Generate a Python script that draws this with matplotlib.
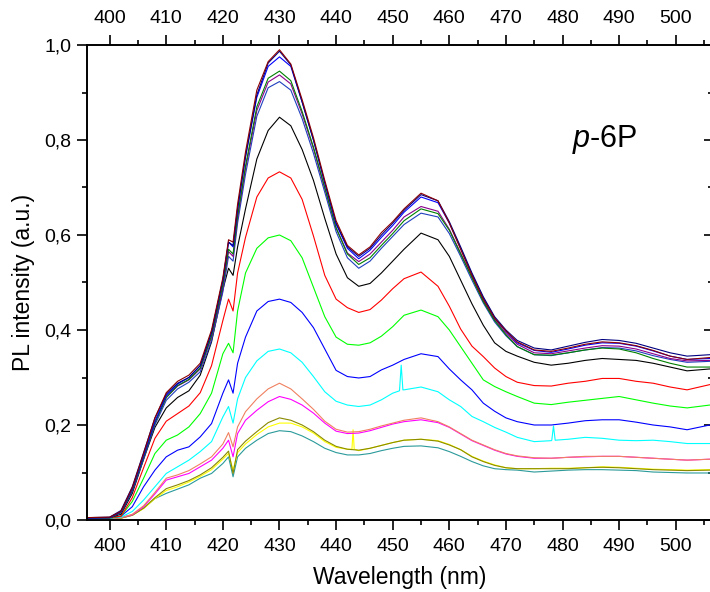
import numpy as np
import matplotlib
matplotlib.use('Agg')
import matplotlib.pyplot as plt
from matplotlib.ticker import MultipleLocator, FuncFormatter

plt.rcParams['font.family'] = ['Liberation Sans', 'DejaVu Sans']
plt.rcParams['mathtext.fontset'] = 'custom'
plt.rcParams['mathtext.it'] = 'Liberation Sans:italic'
plt.rcParams['mathtext.rm'] = 'Liberation Sans'

# wavelength grid (nm) shared by all spectra
wl = [396, 400, 402, 404, 406, 408, 410, 412, 414, 416,
      418, 420, 421, 421.8, 422.6, 424, 426, 428, 430, 432,
      434, 436, 438, 440, 442, 444, 446, 448, 450, 452,
      455, 458, 460, 462, 464, 466, 468, 470, 472, 475,
      478, 481, 484, 487, 490, 493, 496, 499, 502, 506]

# PL spectra
wine = [0.005, 0.006, 0.018, 0.068, 0.14, 0.215, 0.268, 0.292, 0.305, 0.33,
        0.40, 0.51, 0.59, 0.585, 0.665, 0.775, 0.905, 0.965, 0.99, 0.96,
        0.885, 0.805, 0.715, 0.63, 0.578, 0.558, 0.575, 0.605, 0.628, 0.655,
        0.688, 0.672, 0.625, 0.57, 0.515, 0.465, 0.425, 0.398, 0.375, 0.358,
        0.355, 0.362, 0.37, 0.375, 0.373, 0.367, 0.357, 0.345, 0.338, 0.342]
navy = [0.005, 0.006, 0.02, 0.07, 0.142, 0.215, 0.265, 0.288, 0.30, 0.325,
        0.395, 0.505, 0.585, 0.578, 0.655, 0.765, 0.895, 0.962, 0.987, 0.958,
        0.88, 0.80, 0.71, 0.625, 0.575, 0.555, 0.572, 0.60, 0.625, 0.652,
        0.685, 0.672, 0.628, 0.575, 0.52, 0.47, 0.428, 0.40, 0.378, 0.362,
        0.358, 0.366, 0.374, 0.38, 0.378, 0.372, 0.362, 0.352, 0.345, 0.348]
blue_a = [0.004, 0.005, 0.017, 0.065, 0.135, 0.208, 0.262, 0.286, 0.30, 0.325,
          0.395, 0.505, 0.585, 0.575, 0.655, 0.765, 0.89, 0.955, 0.975, 0.955,
          0.88, 0.80, 0.71, 0.623, 0.572, 0.55, 0.568, 0.595, 0.62, 0.648,
          0.68, 0.668, 0.625, 0.572, 0.517, 0.467, 0.425, 0.397, 0.373, 0.357,
          0.353, 0.36, 0.368, 0.373, 0.372, 0.366, 0.356, 0.345, 0.338, 0.34]
dkgreen = [0.004, 0.005, 0.016, 0.063, 0.132, 0.205, 0.258, 0.283, 0.296, 0.32,
           0.388, 0.495, 0.57, 0.56, 0.64, 0.745, 0.87, 0.93, 0.945, 0.925,
           0.86, 0.785, 0.70, 0.615, 0.56, 0.538, 0.552, 0.578, 0.603, 0.63,
           0.655, 0.645, 0.61, 0.56, 0.51, 0.46, 0.42, 0.39, 0.365, 0.348,
           0.347, 0.352, 0.358, 0.362, 0.36, 0.352, 0.34, 0.33, 0.322, 0.322]
purple = [0.004, 0.005, 0.016, 0.063, 0.132, 0.205, 0.258, 0.282, 0.295, 0.318,
          0.385, 0.49, 0.565, 0.555, 0.635, 0.74, 0.862, 0.922, 0.937, 0.918,
          0.855, 0.782, 0.698, 0.615, 0.562, 0.544, 0.56, 0.585, 0.61, 0.638,
          0.66, 0.65, 0.612, 0.562, 0.512, 0.462, 0.422, 0.393, 0.37, 0.352,
          0.35, 0.356, 0.362, 0.367, 0.366, 0.36, 0.35, 0.34, 0.335, 0.336]
blue_b = [0.004, 0.005, 0.015, 0.06, 0.128, 0.2, 0.252, 0.276, 0.29, 0.312,
          0.378, 0.48, 0.555, 0.545, 0.625, 0.728, 0.85, 0.91, 0.923, 0.905,
          0.845, 0.772, 0.69, 0.607, 0.552, 0.53, 0.545, 0.572, 0.597, 0.622,
          0.646, 0.638, 0.603, 0.555, 0.505, 0.457, 0.417, 0.388, 0.365, 0.348,
          0.346, 0.352, 0.358, 0.363, 0.362, 0.356, 0.346, 0.338, 0.332, 0.334]
black = [0.004, 0.005, 0.012, 0.056, 0.128, 0.195, 0.236, 0.258, 0.272, 0.305,
         0.375, 0.485, 0.53, 0.515, 0.575, 0.655, 0.76, 0.82, 0.848, 0.83,
         0.78, 0.715, 0.635, 0.56, 0.51, 0.492, 0.498, 0.52, 0.545, 0.57,
         0.604, 0.59, 0.555, 0.505, 0.455, 0.41, 0.373, 0.355, 0.345, 0.332,
         0.326, 0.33, 0.336, 0.34, 0.338, 0.336, 0.33, 0.322, 0.314, 0.318]
red = [0.004, 0.005, 0.008, 0.047, 0.11, 0.172, 0.208, 0.224, 0.24, 0.268,
       0.325, 0.42, 0.465, 0.44, 0.52, 0.595, 0.68, 0.72, 0.733, 0.72,
       0.675, 0.598, 0.515, 0.465, 0.447, 0.437, 0.443, 0.463, 0.487, 0.508,
       0.522, 0.492, 0.45, 0.402, 0.366, 0.344, 0.32, 0.302, 0.29, 0.283,
       0.282, 0.288, 0.292, 0.298, 0.298, 0.292, 0.288, 0.28, 0.274, 0.285]
green = [0.003, 0.004, 0.008, 0.039, 0.088, 0.14, 0.168, 0.179, 0.196, 0.224,
         0.267, 0.35, 0.372, 0.352, 0.44, 0.52, 0.572, 0.594, 0.60, 0.588,
         0.552, 0.49, 0.428, 0.385, 0.37, 0.368, 0.373, 0.387, 0.407, 0.431,
         0.442, 0.428, 0.40, 0.365, 0.33, 0.295, 0.281, 0.27, 0.26, 0.246,
         0.243, 0.248, 0.252, 0.256, 0.26, 0.253, 0.246, 0.24, 0.236, 0.242]
blue_c = [0.003, 0.004, 0.008, 0.028, 0.07, 0.105, 0.133, 0.147, 0.154, 0.175,
          0.203, 0.267, 0.295, 0.267, 0.33, 0.385, 0.44, 0.46, 0.465, 0.458,
          0.437, 0.405, 0.36, 0.315, 0.302, 0.299, 0.302, 0.316, 0.326, 0.338,
          0.35, 0.344, 0.318, 0.295, 0.274, 0.246, 0.229, 0.215, 0.207, 0.2,
          0.2, 0.204, 0.209, 0.211, 0.211, 0.206, 0.2, 0.196, 0.19, 0.2]
cyan = [0.003, 0.004, 0.006, 0.018, 0.042, 0.07, 0.098, 0.112, 0.126, 0.144,
        0.165, 0.217, 0.239, 0.204, 0.255, 0.3, 0.335, 0.355, 0.36, 0.352,
        0.332, 0.302, 0.27, 0.25, 0.242, 0.239, 0.242, 0.253, 0.267, 0.274,
        0.28, 0.27, 0.253, 0.239, 0.218, 0.207, 0.195, 0.185, 0.174, 0.165,
        0.167, 0.17, 0.174, 0.172, 0.168, 0.167, 0.168, 0.165, 0.161, 0.161]
salmon = [0.003, 0.004, 0.005, 0.012, 0.03, 0.058, 0.088, 0.095, 0.104, 0.118,
          0.133, 0.16, 0.184, 0.154, 0.196, 0.228, 0.255, 0.276, 0.288, 0.276,
          0.255, 0.233, 0.208, 0.191, 0.185, 0.186, 0.191, 0.198, 0.204, 0.21,
          0.215, 0.207, 0.196, 0.182, 0.168, 0.158, 0.148, 0.14, 0.135, 0.131,
          0.13, 0.132, 0.134, 0.134, 0.134, 0.132, 0.13, 0.128, 0.126, 0.128]
magenta = [0.003, 0.004, 0.005, 0.011, 0.028, 0.055, 0.084, 0.091, 0.098, 0.112,
           0.126, 0.151, 0.168, 0.133, 0.182, 0.21, 0.231, 0.249, 0.26, 0.254,
           0.242, 0.225, 0.204, 0.187, 0.182, 0.183, 0.188, 0.195, 0.202, 0.207,
           0.211, 0.205, 0.195, 0.181, 0.167, 0.157, 0.147, 0.139, 0.134, 0.13,
           0.13, 0.132, 0.133, 0.134, 0.134, 0.132, 0.13, 0.128, 0.126, 0.128]
olive = [0.003, 0.004, 0.004, 0.01, 0.025, 0.047, 0.066, 0.074, 0.083, 0.095,
         0.11, 0.132, 0.145, 0.098, 0.148, 0.166, 0.186, 0.205, 0.215, 0.21,
         0.2, 0.186, 0.168, 0.155, 0.149, 0.147, 0.151, 0.157, 0.163, 0.168,
         0.17, 0.166, 0.158, 0.148, 0.133, 0.123, 0.115, 0.11, 0.108, 0.108,
         0.108, 0.108, 0.11, 0.111, 0.11, 0.108, 0.106, 0.105, 0.104, 0.105]
yellow = [0.003, 0.004, 0.004, 0.01, 0.024, 0.045, 0.062, 0.07, 0.08, 0.092,
          0.106, 0.128, 0.14, 0.105, 0.142, 0.16, 0.18, 0.196, 0.204, 0.204,
          0.196, 0.183, 0.165, 0.153, 0.149, 0.146, 0.151, 0.157, 0.163, 0.168,
          0.17, 0.167, 0.159, 0.148, 0.134, 0.124, 0.116, 0.11, 0.108, 0.108,
          0.109, 0.109, 0.11, 0.112, 0.111, 0.109, 0.107, 0.106, 0.105, 0.106]
teal = [0.003, 0.004, 0.004, 0.01, 0.025, 0.045, 0.056, 0.065, 0.074, 0.088,
        0.098, 0.119, 0.133, 0.091, 0.133, 0.151, 0.168, 0.182, 0.188, 0.186,
        0.177, 0.165, 0.151, 0.142, 0.137, 0.137, 0.14, 0.146, 0.151, 0.155,
        0.156, 0.152, 0.144, 0.134, 0.123, 0.114, 0.108, 0.106, 0.105, 0.101,
        0.103, 0.105, 0.106, 0.106, 0.105, 0.104, 0.101, 0.1, 0.099, 0.099]

# narrow spikes on two of the spectra
cyan_spike_wl = [451.2, 451.5, 451.8, 478.1, 478.4, 478.7]
cyan_spike_val = [0.272, 0.326, 0.274, 0.168, 0.198, 0.168]
yellow_spike_wl = [442.8, 443.0, 443.2]
yellow_spike_val = [0.149, 0.19, 0.149]


def with_spikes(vals, sx, sy):
    x = np.concatenate([wl, sx])
    y = np.concatenate([vals, sy])
    order = np.argsort(x)
    return x[order], y[order]


curves = [
    (wl, teal, '#2b9a9a'),
    with_spikes(yellow, yellow_spike_wl, yellow_spike_val) + ('#ffff00',),
    (wl, olive, '#8a8a00'),
    (wl, magenta, '#ff00ff'),
    (wl, salmon, '#f08060'),
    with_spikes(cyan, cyan_spike_wl, cyan_spike_val) + ('#00ffff',),
    (wl, blue_c, '#0000ff'),
    (wl, green, '#00ff00'),
    (wl, red, '#ff0000'),
    (wl, black, '#000000'),
    (wl, blue_b, '#1f3fbf'),
    (wl, purple, '#8b008b'),
    (wl, dkgreen, '#008000'),
    (wl, blue_a, '#0000ff'),
    (wl, navy, '#000080'),
    (wl, wine, '#8b0000'),
]

fig = plt.figure(figsize=(7.1, 5.92), dpi=100)
ax = fig.add_axes([87 / 710, 72 / 592, 625 / 710, 475 / 592])

for x, y, c in curves:
    ax.plot(x, y, color=c, lw=0.8)

ax.set_xlim(396, 506.4)
ax.set_ylim(0, 1.0)

ax.xaxis.set_major_locator(MultipleLocator(10))
ax.xaxis.set_minor_locator(MultipleLocator(5))
ax.yaxis.set_major_locator(MultipleLocator(0.2))
ax.yaxis.set_minor_locator(MultipleLocator(0.1))
ax.yaxis.set_major_formatter(FuncFormatter(lambda v, p: f'{v:.1f}'.replace('.', ',')))

ax.tick_params(which='both', direction='out', top=True, labeltop=True,
               right=False, width=1.2, labelsize=14)
ax.tick_params(which='major', length=7)
ax.tick_params(which='minor', length=3.6)
ax.tick_params(axis='x', pad=6)
ax.tick_params(axis='y', pad=4)
for s in ax.spines.values():
    s.set_linewidth(1.4)

# right axis: inward ticks, no labels
sec = ax.secondary_yaxis('right')
sec.yaxis.set_major_locator(MultipleLocator(0.2))
sec.yaxis.set_minor_locator(MultipleLocator(0.1))
sec.tick_params(which='both', direction='in', labelright=False, width=1.2)
sec.tick_params(which='major', length=6)
sec.tick_params(which='minor', length=3)
sec.spines['right'].set_linewidth(1.4)

ax.set_xlabel('Wavelength (nm)', fontsize=16.5, labelpad=8)
ax.set_ylabel('PL intensity (a.u.)', fontsize=16.5, labelpad=7)

ax.text(487.5, 0.80, r'$\mathit{p}$-6P', fontsize=22, ha='center', va='center')

fig.savefig('out.png', dpi=100)
